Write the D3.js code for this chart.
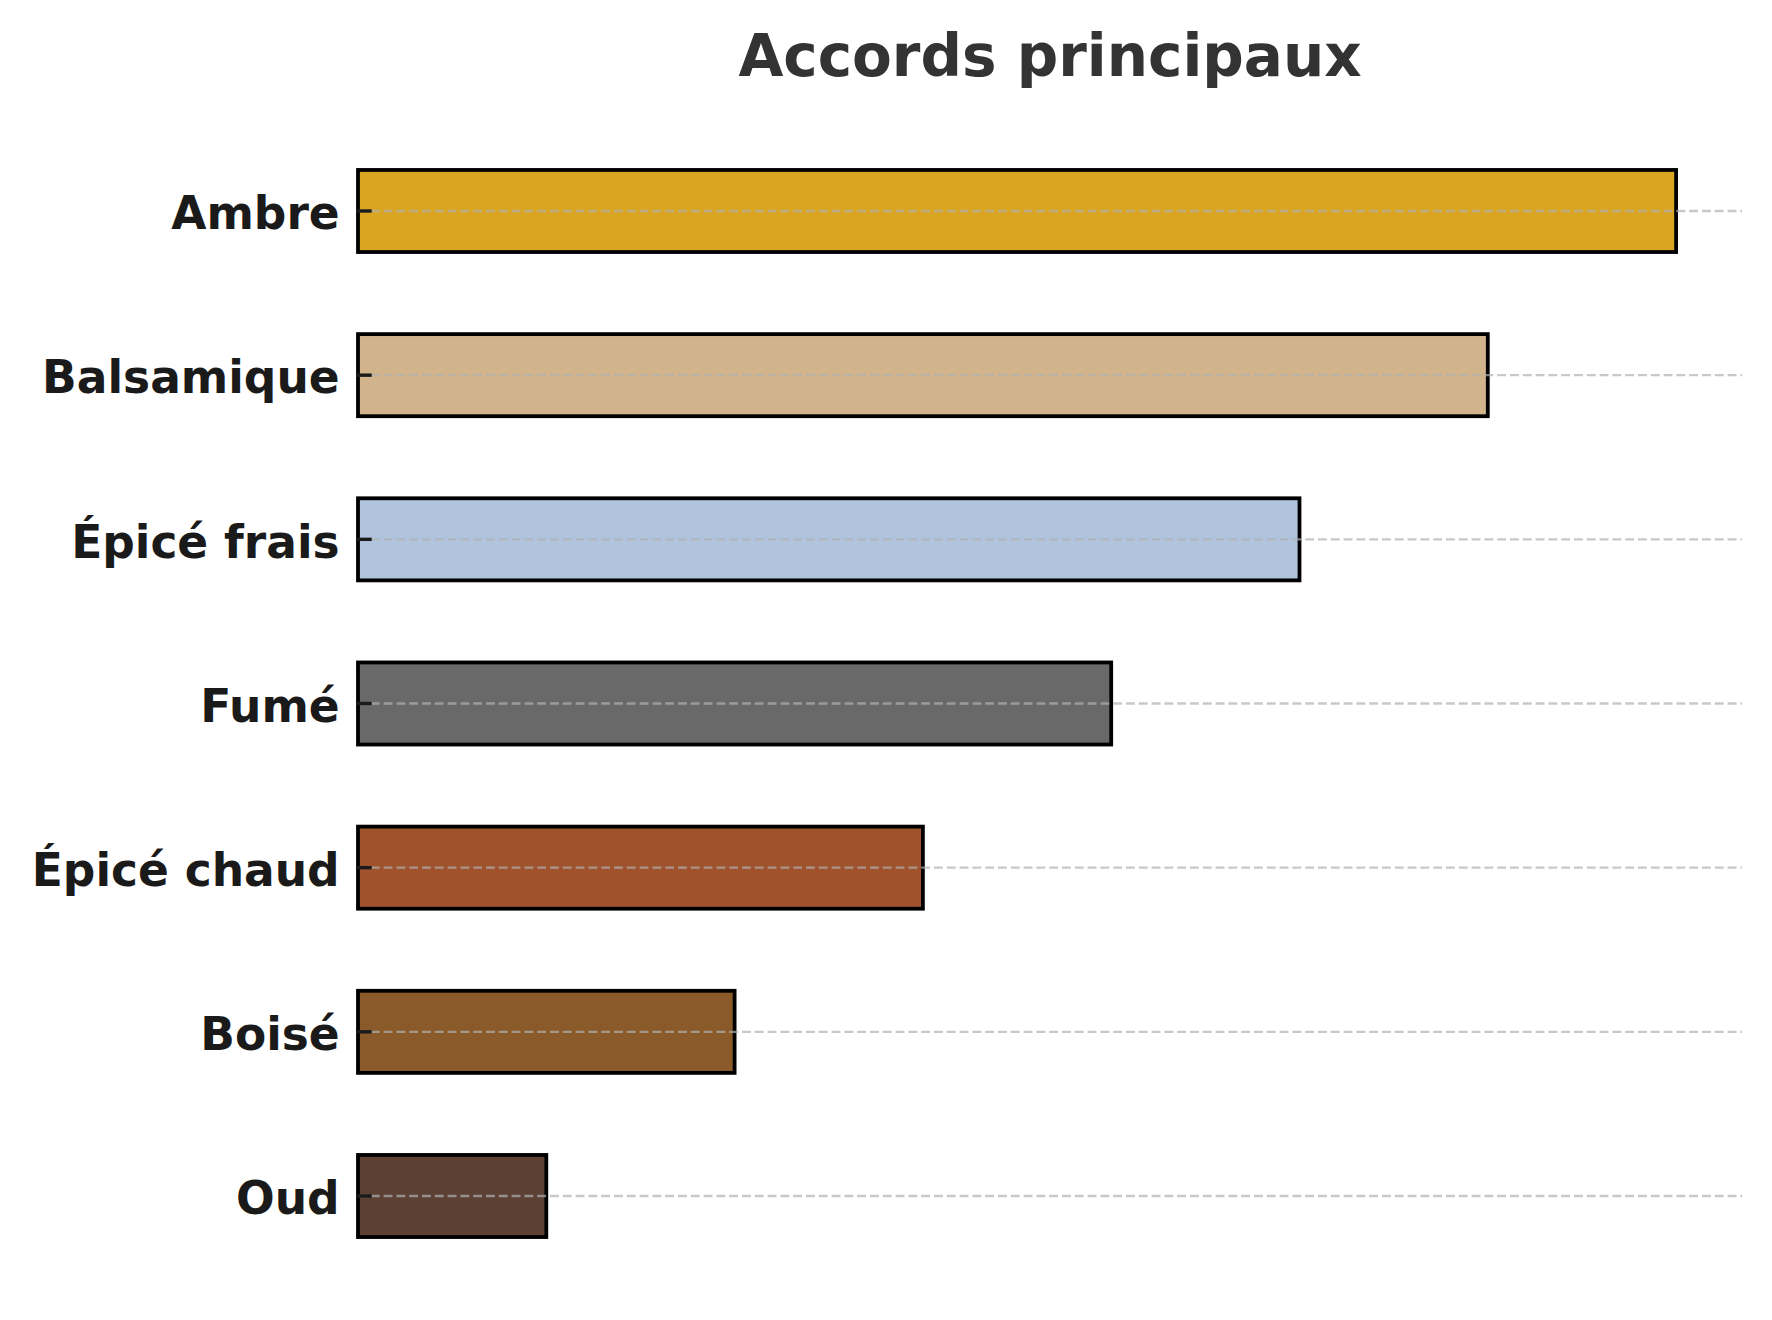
<!DOCTYPE html>
<html>
<head>
<meta charset="utf-8">
<script src="https://cdn.jsdelivr.net/npm/d3@7"></script>
<style>
  body { margin: 0; background: #ffffff; }
  text { font-family: "DejaVu Sans", sans-serif; }
</style>
</head>
<body>
<div id="chart"></div>
<script>
// Accords (top to bottom) and their relative strength
var accords = ["Ambre", "Balsamique", "Épicé frais", "Fumé", "Épicé chaud", "Boisé", "Oud"];
var strength = [7, 6, 5, 4, 3, 2, 1];
var barColors = ["#DAA520", "#D2B48C", "#B0C4DE", "#696969", "#A0522D", "#8B5A2B", "#5C4033"];
var chartTitle = "Accords principaux";

var width = 1772;
var height = 1320;

// Plot area
var plotLeft = 358;
var plotRight = 1742;
var plotTop = 116.6;
var plotBottom = 1290.4;

var svg = d3
  .select("#chart")
  .append("svg")
  .attr("width", width)
  .attr("height", height);

svg.append("rect")
  .attr("width", width)
  .attr("height", height)
  .attr("fill", "#ffffff");

var rows = accords.map(function(name, i) {
  return { name: name, value: strength[i], color: barColors[i] };
});

// Scales: x leaves 5% room after the longest bar
var xScale = d3
  .scaleLinear()
  .domain([0, d3.max(strength) * 1.05])
  .range([plotLeft, plotRight]);

var yScale = d3
  .scaleBand()
  .domain(accords)
  .range([plotTop, plotBottom])
  .paddingInner(0.5)
  .paddingOuter(0.325);

// Bars
svg.append("g")
  .selectAll("rect")
  .data(rows)
  .enter()
  .append("rect")
  .attr("x", xScale(0))
  .attr("y", function(d) { return yScale(d.name); })
  .attr("width", function(d) { return xScale(d.value) - xScale(0); })
  .attr("height", yScale.bandwidth())
  .attr("fill", function(d) { return d.color; })
  .attr("stroke", "#000000")
  .attr("stroke-width", 3.8);

// Dashed grid lines sit above the bars
svg.append("g")
  .selectAll("line")
  .data(accords)
  .enter()
  .append("line")
  .attr("x1", xScale(0))
  .attr("x2", plotRight)
  .attr("y1", function(d) { return yScale(d) + yScale.bandwidth() / 2; })
  .attr("y2", function(d) { return yScale(d) + yScale.bandwidth() / 2; })
  .attr("stroke", "#b0b0b0")
  .attr("stroke-opacity", 0.7)
  .attr("stroke-width", 2.4)
  .attr("stroke-dasharray", "8.9 3.9");

// Y axis with short inward ticks, no spine
var yAxis = d3.axisLeft(yScale).tickSize(-15).tickPadding(17);

var yG = svg.append("g")
  .attr("transform", "translate(" + (plotLeft - 1.3) + ",0)")
  .call(yAxis);

yG.select(".domain").remove();
yG.selectAll(".tick line")
  .attr("stroke", "#1a1a1a")
  .attr("stroke-width", 3.4);
yG.selectAll(".tick text")
  .attr("fill", "#1a1a1a")
  .attr("font-size", 45.5)
  .attr("font-weight", "bold")
  .attr("font-family", "'DejaVu Sans', sans-serif")
  .attr("dy", "0.4em");

// Title, centred over the plot area
svg.append("text")
  .attr("x", (plotLeft + plotRight) / 2)
  .attr("y", 76)
  .attr("text-anchor", "middle")
  .attr("font-size", 58)
  .attr("font-weight", "bold")
  .attr("fill", "#333333")
  .text(chartTitle);
</script>
</body>
</html>
